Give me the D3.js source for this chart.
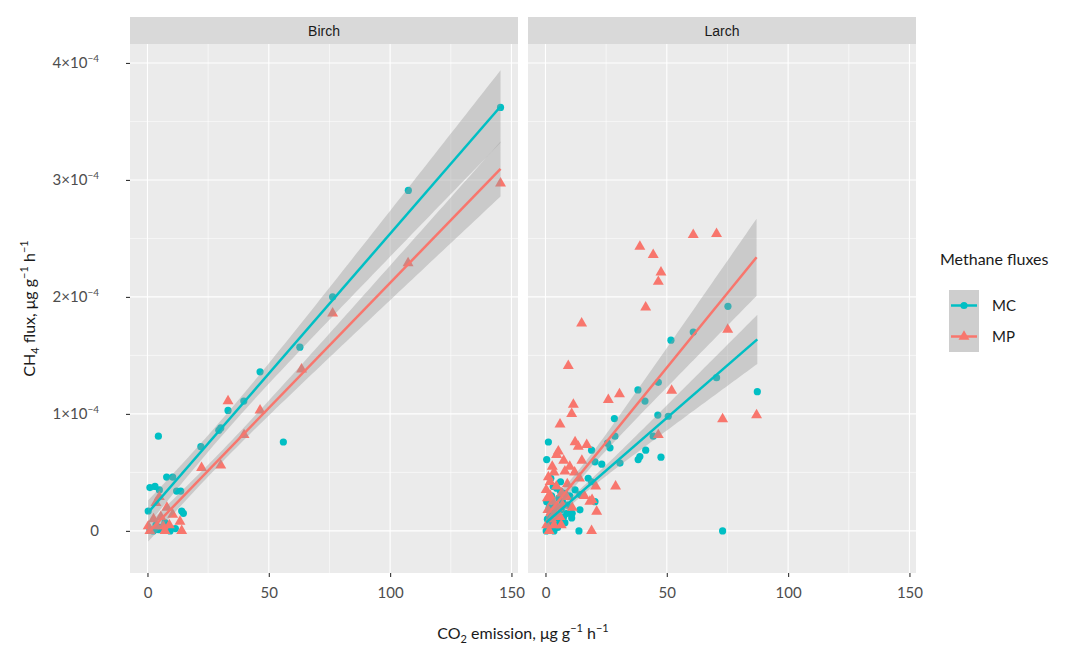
<!DOCTYPE html>
<html><head><meta charset="utf-8">
<script src="https://cdn.jsdelivr.net/npm/d3@7"></script>
<style>body{margin:0;background:#fff;} text{font-family:Lato,"Open Sans",sans-serif;}</style>
</head><body><svg id="c" width="1073" height="646"></svg>
<script>
// ---------- data ----------
const panels = ["Birch", "Larch"];
const seriesNames = ["MC", "MP"];
const seriesColors = ["#00BFC4", "#F8766D"];
const xTicks = [0, 50, 100, 150];
const xMinor = [25, 75, 125];
const yTicks = [0, 1, 2, 3, 4];            // in units of 1e-4
const yMinor = [0.5, 1.5, 2.5, 3.5];
const yTickLabels = ["0", "1×10^−4", "2×10^−4", "3×10^−4", "4×10^−4"];

// points [CO2 emission, CH4 flux ×1e-4]
const birchMC = [[145.5,3.62],[107.5,2.91],[76.3,2.0],[62.8,1.57],[46.4,1.36],[39.7,1.11],[33.2,1.03],[30.2,0.88],[29.4,0.86],[22.0,0.72],[56.0,0.76],[4.5,0.81],[7.9,0.46],[10.4,0.46],[1.0,0.37],[3.1,0.38],[4.9,0.35],[12.0,0.34],[13.7,0.34],[0.3,0.17],[14.1,0.17],[14.8,0.15],[7.2,0.07],[2.4,0.0],[4.5,0.01],[9.3,0.0],[1.0,0.01],[5.5,0.03],[3.5,0.05],[11.5,0.02]];
const birchMP = [[145.5,2.97],[107.4,2.29],[76.3,1.86],[63.5,1.38],[46.4,1.03],[33.2,1.11],[39.8,0.82],[30.2,0.56],[22.3,0.54],[4.9,0.29],[3.5,0.24],[10.4,0.14],[13.4,0.08],[9.0,0.05],[14.1,0.0],[1.0,0.0],[3.8,0.04],[6.5,0.04],[0.3,0.04],[7.2,0.0],[2.5,0.1],[5.5,0.12],[8.0,0.2]];
const larchMC = [[75.2,1.92],[60.9,1.70],[51.7,1.63],[70.5,1.31],[87.3,1.19],[46.5,1.27],[38.1,1.205],[41.0,1.11],[46.3,0.99],[50.6,0.98],[28.4,0.96],[73.0,0.0],[1.2,0.76],[0.5,0.61],[44.4,0.81],[41.3,0.69],[38.9,0.635],[38.2,0.61],[47.6,0.63],[28.6,0.81],[25.6,0.75],[26.6,0.71],[19.0,0.69],[20.4,0.59],[23.2,0.57],[30.7,0.58],[17.6,0.45],[19.0,0.42],[4.6,0.365],[12.2,0.35],[8.0,0.32],[14.2,0.31],[20.4,0.25],[14.2,0.18],[8.0,0.07],[10.8,0.11],[13.8,0.0],[6.1,0.34],[8.9,0.15],[0.5,0.25],[1.5,0.2],[2.5,0.3],[3.0,0.15],[4.0,0.22],[5.5,0.28],[6.5,0.18],[7.0,0.25],[9.0,0.22],[2.0,0.05],[0.3,0.0],[1.0,0.02],[3.5,0.0],[4.5,0.08],[5.0,0.03],[6.0,0.1],[7.5,0.12],[1.8,0.12],[0.8,0.1],[3.2,0.38],[10.0,0.3],[11.0,0.15],[2.2,0.45],[6.2,0.42]];
const larchMP = [[60.9,2.53],[70.5,2.54],[38.9,2.43],[44.4,2.36],[47.6,2.21],[46.5,2.13],[41.3,1.91],[14.9,1.775],[75.1,1.72],[9.4,1.41],[30.5,1.17],[25.9,1.12],[52.0,1.2],[11.5,1.08],[10.8,1.0],[73.0,0.955],[87.0,0.99],[6.0,0.91],[12.2,0.76],[17.0,0.735],[13.5,0.72],[5.3,0.68],[4.6,0.65],[46.5,0.82],[1.2,0.46],[1.9,0.42],[8.0,0.51],[20.7,0.38],[28.9,0.38],[6.7,0.32],[8.7,0.29],[18.3,0.25],[19.2,0.265],[21.1,0.165],[19.0,0.0],[3.4,0.14],[5.4,0.12],[0.5,0.05],[1.5,0.0],[2.5,0.1],[3.5,0.05],[4.0,0.15],[5.0,0.2],[3.0,0.25],[2.0,0.3],[6.0,0.12],[7.0,0.22],[1.0,0.18],[0.3,0.35],[4.5,0.38],[9.0,0.4],[10.0,0.55],[12.0,0.5],[15.0,0.6],[2.8,0.55],[3.5,0.5],[0.8,0.28],[14.0,0.45],[16.0,0.3],[11.0,0.2],[7.5,0.6],[6.5,0.05]];

// linear fits: [intercept, slope, xmin, xmax, xmean, halfwidth at mean, halfwidth at xmax]
const fitBirchMC = [0.15, 0.0239, 0.3, 145.5, 30, 0.07, 0.31];
const fitBirchMP = [-0.02, 0.0214, 0.3, 145.5, 30, 0.05, 0.235];
const fitLarchMC = [0.066, 0.018, 0.3, 87.3, 14, 0.035, 0.21];
const fitLarchMP = [0.12, 0.0255, 0.3, 87.0, 14, 0.05, 0.33];

const pointSets = [[birchMC, birchMP], [larchMC, larchMP]];
const fitSets = [[fitBirchMC, fitBirchMP], [fitLarchMC, fitLarchMP]];

// ---------- layout ----------
const svg = d3.select("#c");
svg.append("rect").attr("width", 1073).attr("height", 646).attr("fill", "#fff");
const panelLeft = [130, 528], panelW = 388, panelTop = 44, panelBottom = 573, stripTop = 17;
const panelH = panelBottom - panelTop;
const x = d3.scaleLinear().domain([-7.2, 152.7]).range([0, panelW]);
const y = d3.scaleLinear().domain([-0.36, 4.162]).range([panelH, 0]);

function bandHW(f, xv) {
  const [a, b, xmin, xmax, xm, hm, he] = f;
  const t = (xv - xm) / (xmax - xm);
  return Math.sqrt(hm * hm + (he * he - hm * hm) * t * t);
}

panels.forEach((p, pi) => {
  const g = svg.append("g").attr("transform", `translate(${panelLeft[pi]},${panelTop})`);
  g.append("rect").attr("width", panelW).attr("height", panelH).attr("fill", "#EBEBEB");
  g.selectAll(".xmin").data(xMinor).enter().append("line")
    .attr("x1", d => x(d)).attr("x2", d => x(d)).attr("y1", 0).attr("y2", panelH)
    .attr("stroke", "#fff").attr("stroke-width", 0.55);
  g.selectAll(".ymin").data(yMinor).enter().append("line")
    .attr("y1", d => y(d)).attr("y2", d => y(d)).attr("x1", 0).attr("x2", panelW)
    .attr("stroke", "#fff").attr("stroke-width", 0.55);
  g.selectAll(".xmaj").data(xTicks).enter().append("line")
    .attr("x1", d => x(d)).attr("x2", d => x(d)).attr("y1", 0).attr("y2", panelH)
    .attr("stroke", "#fff").attr("stroke-width", 1.1);
  g.selectAll(".ymaj").data(yTicks).enter().append("line")
    .attr("y1", d => y(d)).attr("y2", d => y(d)).attr("x1", 0).attr("x2", panelW)
    .attr("stroke", "#fff").attr("stroke-width", 1.1);

  seriesNames.forEach((s, si) => {
    const pts = pointSets[pi][si];
    if (si === 0) {
      g.selectAll(null).data(pts).enter().append("circle")
        .attr("cx", d => x(d[0])).attr("cy", d => y(d[1])).attr("r", 3.6)
        .attr("fill", seriesColors[si]);
    } else {
      const sym = d3.symbol().type(d3.symbolTriangle).size(52);
      g.selectAll(null).data(pts).enter().append("path")
        .attr("d", sym).attr("transform", d => `translate(${x(d[0])},${y(d[1])})`)
        .attr("fill", seriesColors[si]);
    }
  });
  seriesNames.forEach((s, si) => {
    const f = fitSets[pi][si];
    const xs = d3.range(0, 81).map(i => f[2] + (f[3] - f[2]) * i / 80);
    const area = d3.area().x(d => x(d)).y0(d => y(f[0] + f[1] * d - bandHW(f, d))).y1(d => y(f[0] + f[1] * d + bandHW(f, d)));
    g.append("path").attr("d", area(xs)).attr("fill", "#999999").attr("fill-opacity", 0.4);
  });
  seriesNames.forEach((s, si) => {
    const f = fitSets[pi][si];
    const line = d3.line().x(d => x(d)).y(d => y(f[0] + f[1] * d));
    g.append("path").attr("d", line([f[2], f[3]])).attr("fill", "none")
      .attr("stroke", seriesColors[si]).attr("stroke-width", 2.5);
  });

  svg.append("rect").attr("x", panelLeft[pi]).attr("y", stripTop).attr("width", panelW).attr("height", panelTop - stripTop)
    .attr("fill", "#D9D9D9");
  svg.append("text").attr("x", panelLeft[pi] + panelW / 2).attr("y", (stripTop + panelTop) / 2 + 5)
    .attr("text-anchor", "middle").attr("font-size", 14).attr("fill", "#1A1A1A")
    .style("font-family", "'Liberation Sans', Arial, sans-serif").text(p);

  const ax = svg.append("g").attr("transform", `translate(${panelLeft[pi]},${panelBottom})`)
    .call(d3.axisBottom(x).tickValues(xTicks).tickSize(4).tickPadding(10).tickFormat(d3.format("d")));
  ax.select(".domain").remove();
  ax.selectAll("line").attr("stroke", "#333").attr("stroke-width", 1.1);
  ax.selectAll("text").attr("font-size", 15).attr("fill", "#4D4D4D").style("font-family", "Lato,'Open Sans',sans-serif");
});

const ay = svg.append("g").attr("transform", `translate(${panelLeft[0]},${panelTop})`)
  .call(d3.axisLeft(y).tickValues(yTicks).tickSize(4).tickFormat(""));
ay.select(".domain").remove();
ay.selectAll("line").attr("stroke", "#333").attr("stroke-width", 1.1);
yTicks.forEach((v, i) => {
  const parts = yTickLabels[i].split("^");
  const t = svg.append("text").attr("x", 99).attr("y", panelTop + y(v) + 5)
    .attr("text-anchor", "end").attr("font-size", 15).attr("fill", "#4D4D4D");
  t.append("tspan").text(parts[0]);
  if (parts[1]) t.append("tspan").attr("dy", -6).attr("font-size", 10).text(parts[1]);
});

const yt = svg.append("text").attr("transform", `translate(35,${panelTop + panelH / 2}) rotate(-90)`)
  .attr("text-anchor", "middle").attr("font-size", 16).attr("fill", "#1A1A1A");
yt.append("tspan").text("CH");
yt.append("tspan").attr("dy", 4).attr("font-size", 11).text("4");
yt.append("tspan").attr("dy", -4).text(" flux, μg g");
yt.append("tspan").attr("dy", -7).attr("font-size", 11).text("−1");
yt.append("tspan").attr("dy", 7).text(" h");
yt.append("tspan").attr("dy", -7).attr("font-size", 11).text("−1");

const xt = svg.append("text").attr("x", (panelLeft[0] + panelLeft[1] + panelW) / 2).attr("y", 639)
  .attr("text-anchor", "middle").attr("font-size", 16).attr("fill", "#1A1A1A");
xt.append("tspan").text("CO");
xt.append("tspan").attr("dy", 4).attr("font-size", 11).text("2");
xt.append("tspan").attr("dy", -4).text(" emission, μg g");
xt.append("tspan").attr("dy", -7).attr("font-size", 11).text("−1");
xt.append("tspan").attr("dy", 7).text(" h");
xt.append("tspan").attr("dy", -7).attr("font-size", 11).text("−1");

const lg = svg.append("g").attr("transform", "translate(940,0)");
lg.append("text").attr("x", 0).attr("y", 265).attr("font-size", 16).attr("fill", "#1A1A1A").text("Methane fluxes");
seriesNames.forEach((s, si) => {
  const ky = 290 + si * 31;
  lg.append("rect").attr("x", 9).attr("y", ky).attr("width", 30).attr("height", 31).attr("fill", "#F2F2F2");
  lg.append("rect").attr("x", 9).attr("y", ky).attr("width", 30).attr("height", 31).attr("fill", "#999").attr("fill-opacity", 0.4);
  lg.append("line").attr("x1", 11).attr("x2", 37).attr("y1", ky + 15.5).attr("y2", ky + 15.5)
    .attr("stroke", seriesColors[si]).attr("stroke-width", 2.5);
  if (si === 0) lg.append("circle").attr("cx", 24).attr("cy", ky + 15.5).attr("r", 3.6).attr("fill", seriesColors[si]);
  else lg.append("path").attr("d", d3.symbol().type(d3.symbolTriangle).size(52)).attr("transform", `translate(24,${ky + 15.5})`).attr("fill", seriesColors[si]);
  lg.append("text").attr("x", 52).attr("y", ky + 21).attr("font-size", 15).attr("fill", "#1A1A1A").text(s);
});
</script></body></html>
